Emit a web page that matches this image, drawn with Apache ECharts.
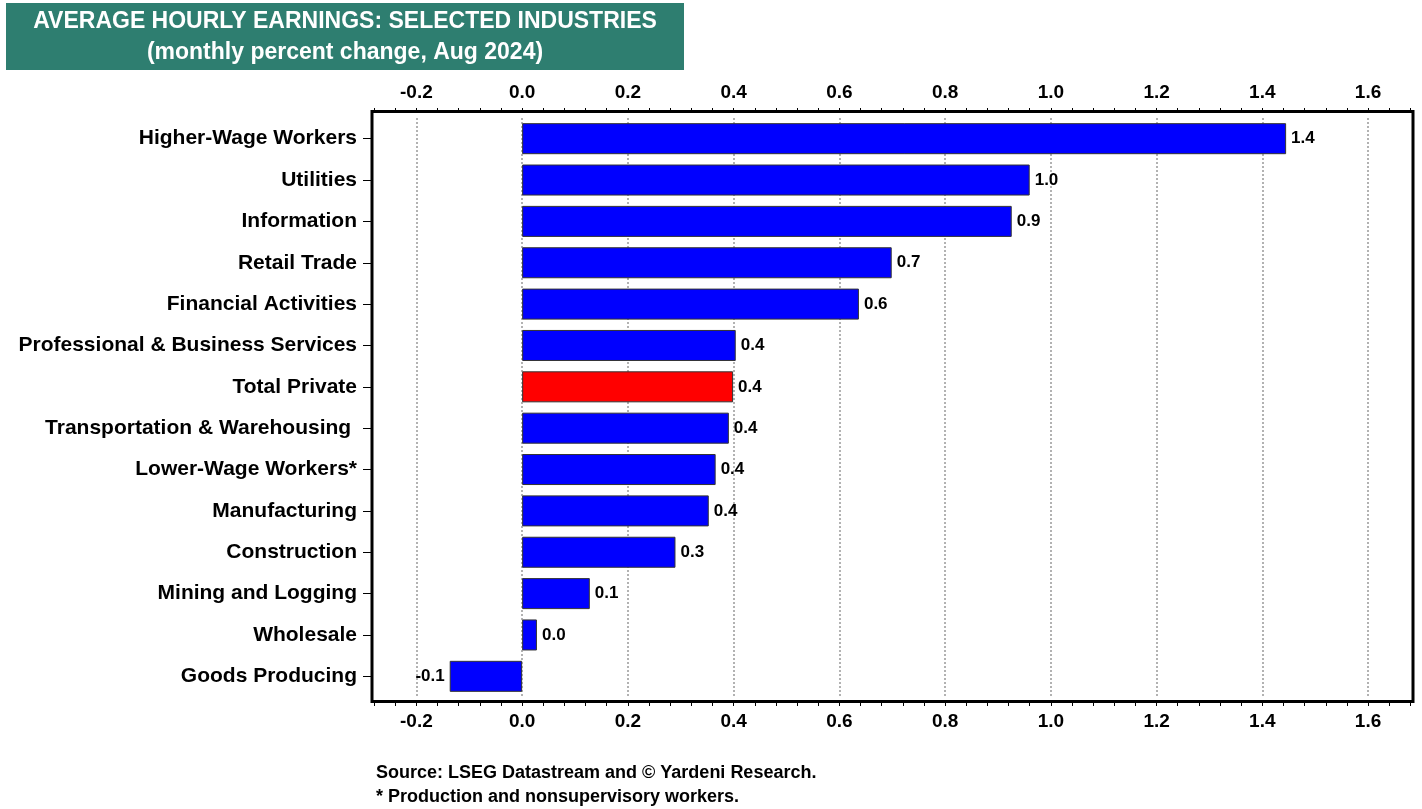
<!DOCTYPE html>
<html>
<head>
<meta charset="utf-8">
<script src="https://cdn.jsdelivr.net/npm/echarts@6/dist/echarts.min.js"></script>
<style>
html,body{margin:0;padding:0;background:#fff;}
#chart{width:1422px;height:809px;}
</style>
</head>
<body>
<div id="chart"></div>
<script>
const categories = [
  'Higher-Wage Workers', 'Utilities', 'Information', 'Retail Trade',
  'Financial Activities', 'Professional & Business Services', 'Total Private',
  'Transportation & Warehousing ', 'Lower-Wage Workers*', 'Manufacturing',
  'Construction', 'Mining and Logging', 'Wholesale', 'Goods Producing'
];
const values = [1.445, 0.960, 0.926, 0.699, 0.637, 0.404, 0.399, 0.391, 0.366, 0.353, 0.290, 0.128, 0.028, -0.137];
const highlight = 'Total Private';
const tickLabels = [-0.2, 0.0, 0.2, 0.4, 0.6, 0.8, 1.0, 1.2, 1.4, 1.6];
const minorStep = 0.04;
const axisMin = -0.284;
const axisMax = 1.685;
const titleLines = ['AVERAGE HOURLY EARNINGS: SELECTED INDUSTRIES', '(monthly percent change, Aug 2024)'];
const footnotes = ['Source: LSEG Datastream and \u00A9 Yardeni Research.', '* Production and nonsupervisory workers.'];

const FONT = '"Liberation Sans", Arial, sans-serif';
const minorTicks = [];
for (let i = -7; i <= 42; i++) minorTicks.push(+(i * minorStep).toFixed(2));

function makeXAxis(pos, offset, margin) {
  return {
    type: 'value', position: pos, min: axisMin, max: axisMax, offset: offset,
    axisLine: { show: false },
    axisTick: { show: true, customValues: minorTicks, length: 4, inside: false, lineStyle: { color: '#000', width: 1 } },
    axisLabel: {
      customValues: tickLabels, margin: margin,
      formatter: v => v.toFixed(1),
      fontFamily: FONT, fontWeight: 'bold', fontSize: 19, color: '#000'
    },
    splitLine: { show: false }
  };
}

const chart = echarts.init(document.getElementById('chart'), null, { renderer: 'canvas' });
chart.setOption({
  animation: false,
  backgroundColor: '#fff',
  grid: { left: 372, right: 9, top: 118, bottom: 112, containLabel: false },
  xAxis: [makeXAxis('top', 6, 10), makeXAxis('bottom', 5, 10)],
  yAxis: {
    type: 'category', inverse: true, data: categories,
    axisLine: { show: false, onZero: false },
    axisTick: { show: true, alignWithLabel: true, length: 9, lineStyle: { color: '#000', width: 1 } },
    axisLabel: { margin: 15, fontFamily: FONT, fontWeight: 'bold', fontSize: 21, color: '#000' },
    splitLine: { show: false }
  },
  series: [{
    type: 'bar', xAxisIndex: 0, z: 3,
    barWidth: '75%',
    data: values.map((v, i) => ({
      value: v,
      itemStyle: { color: categories[i] === highlight ? '#FF0000' : '#0000FF' },
      label: { position: v < 0 ? 'left' : 'right' }
    })),
    itemStyle: { borderColor: '#333', borderWidth: 1 },
    label: {
      show: true, distance: 5,
      formatter: p => p.value.toFixed(1),
      fontFamily: FONT, fontWeight: 'bold', fontSize: 17, color: '#000'
    },
    markLine: {
      silent: true, symbol: 'none', z: 1,
      label: { show: false },
      lineStyle: { color: '#999', type: [2, 2], width: 1.5 },
      data: tickLabels.map(v => ({ xAxis: v }))
    }
  }],
  graphic: [
    { type: 'rect', z: 10, shape: { x: 372, y: 111.5, width: 1041, height: 590 },
      style: { fill: 'none', stroke: '#000', lineWidth: 3 } },
    { type: 'rect', z: 10, shape: { x: 6, y: 3, width: 678, height: 67 },
      style: { fill: '#2E7E70' } },
    { type: 'text', z: 11, x: 345, y: 6,
      style: { text: titleLines.join('\n'), fill: '#fff', font: 'bold 23px ' + FONT, align: 'center', verticalAlign: 'top', lineHeight: 31 } },
    { type: 'text', z: 11, x: 376, y: 761,
      style: { text: footnotes.join('\n'), fill: '#000', font: 'bold 18px ' + FONT, verticalAlign: 'top', lineHeight: 24 } }
  ]
});
</script>
</body>
</html>
